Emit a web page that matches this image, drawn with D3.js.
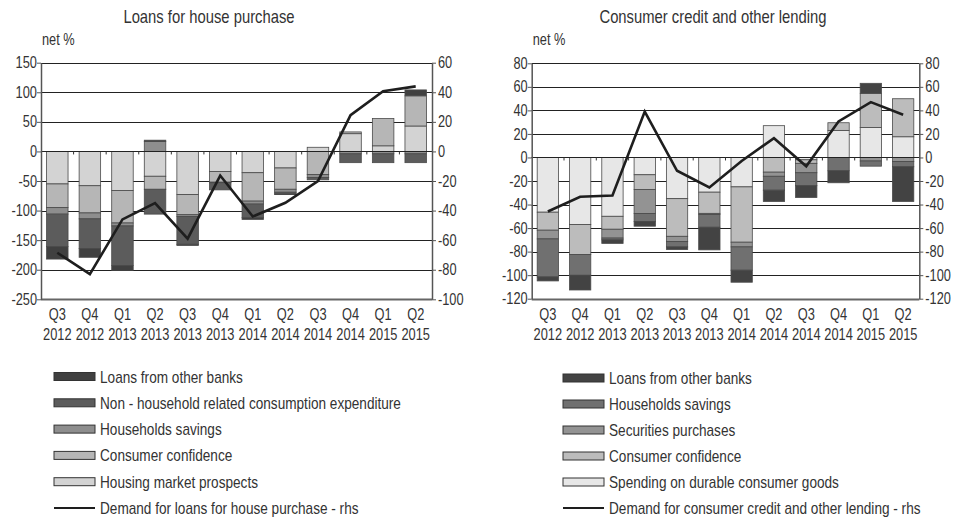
<!DOCTYPE html>
<html>
<head>
<meta charset="utf-8">
<script src="https://cdn.jsdelivr.net/npm/d3@7"></script>
<style>
  body { margin: 0; background: #fff; }
  svg text { font-family: "Liberation Sans", Arial, sans-serif; fill: #333; }
</style>
</head>
<body>
<div id="chart"></div>
<script>
// quarters on the x axis (both panels)
const quarters = ["Q3 2012", "Q4 2012", "Q1 2013", "Q2 2013", "Q3 2013", "Q4 2013",
                  "Q1 2014", "Q2 2014", "Q3 2014", "Q4 2014", "Q1 2015", "Q2 2015"];

// left panel: loans for house purchase (net %), stacked from zero outwards
const houseProspects   = [-55, -58, -66, -42, -73, -34, -36, -28,   7,  30, 9.5,  43];
const houseConfidence  = [-40, -46, -55, -22, -34, -18, -48, -36, -39,   3,  46,  51];
const houseSavings     = [-11, -10,  -5,  17,  -3,  -1,  -5,  -5,  -5,  -4,  -4,  -4];
const houseNonHousehold= [-55, -50, -67, -42, -47, -12, -23,  -3,  -4, -15, -15, -15];
const houseOtherBanks  = [-21, -15,  -8,   2,  -2,   0,  -3,  -1,   0,   0,   0,  10];
const houseDemand      = [-68.5, -83, -46, -35, -59, -16.3, -44, -34.7, -20, 24.5, 40.7, 44];

// right panel: consumer credit and other lending (net %)
const consDurables    = [-46.5, -57, -50, -14.7, -35, -29.5, -25,   27,  -2,   23, 25.5, 17.6];
const consConfidence  = [-15.3, -25.5, -11, -12.5, -32, -18, -47, -12.5, -3,  6.5,  29, 32.3];
const consSecurities  = [-7.4,    0, -7.5, -20.4, -4.5,  -1,  -4,  -3.5,  -8,    0,  -3, -3.4];
const consSavings     = [-32.3, -17.6, -1.5, -6.8, -4.5, -10.8, -19.8, -11.8, -11, -11.3, -4.4, -4.5];
const consOtherBanks  = [-3.4, -12.5,  -3,   -4,  -2.2, -19.2, -10.2, -9.6, -10, -10.2, 8.5, -29.5];
const consDemand      = [-45.9, -33.4, -32.3, 39, -11.3, -25.5, -3, 16.4, -7.5, 30.6, 47, 36.3];

const houseTicksL = [150, 100, 50, 0, -50, -100, -150, -200, -250];
const houseTicksR = [60, 40, 20, 0, -20, -40, -60, -80, -100];
const consTicks   = [80, 60, 40, 20, 0, -20, -40, -60, -80, -100, -120];

const houseNames = ["Housing market prospects", "Consumer confidence", "Households savings",
                    "Non - household related consumption expenditure", "Loans from other banks"];
const houseColors = ["#d3d3d3", "#b6b6b6", "#8e8e8e", "#5c5c5c", "#404040"];
const consNames = ["Spending on durable consumer goods", "Consumer confidence", "Securities purchases",
                   "Households savings", "Loans from other banks"];
const consColors = ["#e7e7e7", "#bcbcbc", "#939393", "#707070", "#434343"];

const svg = d3.select("#chart").append("svg")
  .attr("width", 957)
  .attr("height", 519);

function drawPanel(p) {
  const g = svg.append("g");

  const x = d3.scaleBand()
    .domain(quarters)
    .range([p.x0, p.x1])
    .paddingInner(0.34)
    .paddingOuter(0.17);

  const yL = d3.scaleLinear().domain(p.domainL).range([p.yBot, p.yTop]);
  const yR = d3.scaleLinear().domain(p.domainR).range([p.yBot, p.yTop]);

  // gridlines
  g.selectAll(".grid")
    .data(p.ticksL)
    .enter()
    .append("line")
    .attr("x1", p.x0)
    .attr("x2", p.x1)
    .attr("y1", d => Math.round(yL(d)) + 0.5)
    .attr("y2", d => Math.round(yL(d)) + 0.5)
    .attr("stroke", d => d === p.domainL[0] ? "#666" : "#222")
    .attr("stroke-width", d => d === p.domainL[0] ? 2 : 1);

  // stacked bars
  const rows = quarters.map((q, i) => {
    const r = { q: q };
    p.series.forEach((s, k) => { r[k] = s[i]; });
    return r;
  });
  const stacked = d3.stack()
    .keys(p.series.map((s, k) => k))
    .offset(d3.stackOffsetDiverging)(rows);

  const layers = g.selectAll(".layer")
    .data(stacked)
    .enter()
    .append("g")
    .attr("fill", d => p.colors[d.key]);

  layers.selectAll("rect")
    .data(d => d)
    .enter()
    .append("rect")
    .attr("x", d => x(d.data.q))
    .attr("width", x.bandwidth())
    .attr("y", d => yL(Math.max(d[0], d[1])))
    .attr("height", d => Math.abs(yL(d[0]) - yL(d[1])))
    .attr("stroke", "#4a4a4a")
    .attr("stroke-width", 0.8);

  // zero line with category ticks
  g.append("line")
    .attr("x1", p.x0).attr("x2", p.x1)
    .attr("y1", Math.round(yL(0)) + 0.5).attr("y2", Math.round(yL(0)) + 0.5)
    .attr("stroke", "#222");
  g.selectAll(".ctick")
    .data(d3.range(1, quarters.length))
    .enter()
    .append("line")
    .attr("x1", i => x.range()[0] + i * x.step())
    .attr("x2", i => x.range()[0] + i * x.step())
    .attr("y1", yL(0))
    .attr("y2", yL(0) + 3)
    .attr("stroke", "#333");

  // axes
  const left = g.append("g")
    .attr("transform", `translate(${p.x0},0)`)
    .call(d3.axisLeft(yL).tickValues(p.ticksL).tickSize(4).tickSizeOuter(0).tickFormat(d => String(d)));
  const right = g.append("g")
    .attr("transform", `translate(${p.x1},0)`)
    .call(d3.axisRight(yR).tickValues(p.ticksR).tickSize(4).tickSizeOuter(0).tickFormat(d => String(d)));
  [left, right].forEach(a => {
    a.attr("font-family", null).attr("font-size", null);
    a.select(".domain").attr("stroke", "#555").attr("stroke-width", 1.5);
    a.selectAll(".tick line").attr("stroke", "#555");
    a.selectAll("text").attr("font-size", 16).attr("fill", "#333");
  });
  left.selectAll("text").attr("x", -4);
  right.selectAll("text").attr("x", 6);

  // category labels
  const labels = g.selectAll(".xlab")
    .data(quarters)
    .enter()
    .append("text")
    .attr("text-anchor", "middle")
    .attr("font-size", 16);
  labels.append("tspan")
    .attr("x", d => x(d) + x.bandwidth() / 2)
    .attr("y", 320)
    .text(d => d.split(" ")[0]);
  labels.append("tspan")
    .attr("x", d => x(d) + x.bandwidth() / 2)
    .attr("y", 340)
    .text(d => d.split(" ")[1]);

  // demand line (rhs)
  const line = d3.line()
    .x((d, i) => x(quarters[i]) + x.bandwidth() / 2)
    .y(d => yR(d));
  g.append("path")
    .datum(p.demand)
    .attr("d", line)
    .attr("fill", "none")
    .attr("stroke", "#1e1e1e")
    .attr("stroke-width", 2.6)
    .attr("stroke-linejoin", "miter");

  // titles
  g.append("text")
    .attr("x", p.titleX)
    .attr("y", 23)
    .attr("text-anchor", "middle")
    .attr("font-size", 18.5)
    .text(p.title);
  g.append("text")
    .attr("x", p.x0 + 1)
    .attr("y", 45)
    .attr("font-size", 16)
    .text("net %");

  // legend (darkest first)
  const order = d3.range(p.names.length).reverse();
  const leg = g.selectAll(".legend")
    .data(order)
    .enter()
    .append("g")
    .attr("transform", (d, i) => `translate(${p.legX},${p.legY + i * p.legStep})`);
  leg.append("rect")
    .attr("x", 0)
    .attr("y", -4)
    .attr("width", 41)
    .attr("height", 8)
    .attr("fill", d => p.colors[d])
    .attr("stroke", "#333")
    .attr("stroke-width", 1);
  leg.append("text")
    .attr("x", 46)
    .attr("y", 6)
    .attr("font-size", 17)
    .text(d => p.names[d]);

  const ly = p.legY + order.length * p.legStep;
  g.append("line")
    .attr("x1", p.legX).attr("x2", p.legX + 41)
    .attr("y1", ly).attr("y2", ly)
    .attr("stroke", "#1e1e1e")
    .attr("stroke-width", 2.2);
  g.append("text")
    .attr("x", p.legX + 46)
    .attr("y", ly + 6)
    .attr("font-size", 17)
    .text(p.lineName);
}

// the original uses a condensed face; squeeze the glyphs horizontally
function narrow(sel, f) {
  sel.each(function() {
    const kids = this.querySelectorAll("tspan");
    const els = kids.length ? Array.from(kids) : [this];
    els.forEach(el => {
      const w = el.getComputedTextLength();
      el.setAttribute("textLength", (w * f).toFixed(1));
      el.setAttribute("lengthAdjust", "spacingAndGlyphs");
    });
  });
}

drawPanel({
  title: "Loans for house purchase",
  titleX: 209,
  x0: 41, x1: 432, yTop: 62.7, yBot: 299.3,
  domainL: [-250, 150], domainR: [-100, 60],
  ticksL: houseTicksL, ticksR: houseTicksR,
  series: [houseProspects, houseConfidence, houseSavings, houseNonHousehold, houseOtherBanks],
  colors: houseColors,
  names: houseNames,
  demand: houseDemand,
  lineName: "Demand for loans for house purchase - rhs",
  legX: 54, legY: 376.5, legStep: 26.3
});

drawPanel({
  title: "Consumer credit and other lending",
  titleX: 713,
  x0: 531.7, x1: 919.3, yTop: 63.3, yBot: 298.7,
  domainL: [-120, 80], domainR: [-120, 80],
  ticksL: consTicks, ticksR: consTicks,
  series: [consDurables, consConfidence, consSecurities, consSavings, consOtherBanks],
  colors: consColors,
  names: consNames,
  demand: consDemand,
  lineName: "Demand for consumer credit and other lending - rhs",
  legX: 563, legY: 378, legStep: 26
});

narrow(svg.selectAll("text"), 0.8);
</script>
</body>
</html>
